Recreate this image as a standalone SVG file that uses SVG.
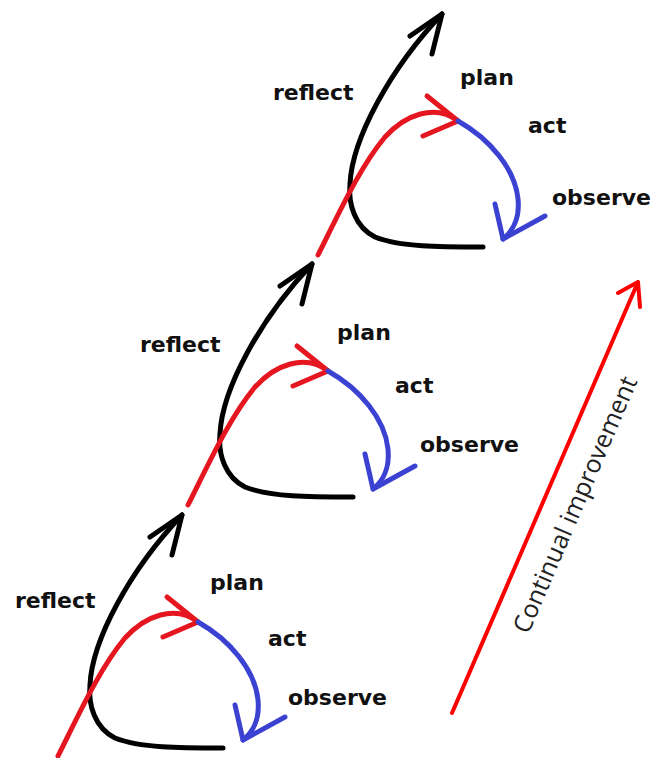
<svg xmlns="http://www.w3.org/2000/svg" xmlns:xlink="http://www.w3.org/1999/xlink" width="655" height="758" viewBox="0 0 655 758">
<style>
.lbl{font-family:"DejaVu Sans","Liberation Sans",sans-serif;font-weight:bold;font-size:22px;fill:#111}
.ci{font-family:"Open Sans","Liberation Sans",sans-serif;font-size:25px;fill:#222}
.s{fill:none;stroke-width:5;stroke-linecap:round;stroke-linejoin:round}
.k{stroke:#000}
.r{stroke:#e5161f}
.b{stroke:#3b42d2}
</style>
<defs>
<g id="cyc">
<path class="s k" d="M223,748 C180,748 140,748 115,738 C95,728 88,705 90,685 C92,640 130,570 182,515"/>
<path class="s k" d="M150,537 L182,515 L172,555"/>
<path class="s r" d="M58,756 C80,712 100,668 125,638 C145,616 175,604 198,622"/>
<path class="s r" d="M167,597 L198,622 L163,637"/>
<path class="s b" d="M198,622 C230,640 255,670 258,700 C260,720 252,733 243,740"/>
<path class="s b" d="M235,705 L243,740 L285,717"/>
</g>
</defs>
<rect width="655" height="758" fill="#fff"/>
<g id="connectors">
<use xlink:href="#cyc"/>
<use xlink:href="#cyc" transform="translate(130,-251)"/>
<use xlink:href="#cyc" transform="translate(260,-501)"/>
<path id="improve-arrow" fill="none" stroke="#f00" stroke-width="4" stroke-linecap="round" stroke-linejoin="round" d="M452,713 L638,282 M618,293 L638,282 L640,307"/>
</g>
<g id="reflect1"><text class="lbl" x="15" y="608">reflect</text></g>
<g id="plan1"><text class="lbl" x="210" y="590">plan</text></g>
<g id="act1"><text class="lbl" x="268" y="646">act</text></g>
<g id="observe1"><text class="lbl" x="288" y="705">observe</text></g>
<g id="reflect2"><text class="lbl" x="140" y="352">reflect</text></g>
<g id="plan2"><text class="lbl" x="337" y="340">plan</text></g>
<g id="act2"><text class="lbl" x="395" y="393">act</text></g>
<g id="observe2"><text class="lbl" x="420" y="452">observe</text></g>
<g id="reflect3"><text class="lbl" x="273" y="100">reflect</text></g>
<g id="plan3"><text class="lbl" x="460" y="85">plan</text></g>
<g id="act3"><text class="lbl" x="528" y="133">act</text></g>
<g id="observe3"><text class="lbl" x="552" y="205">observe</text></g>
<g id="continual"><text class="ci" text-anchor="middle" transform="translate(583,508) rotate(-66.7)" x="0" y="0">Continual improvement</text></g>
</svg>
